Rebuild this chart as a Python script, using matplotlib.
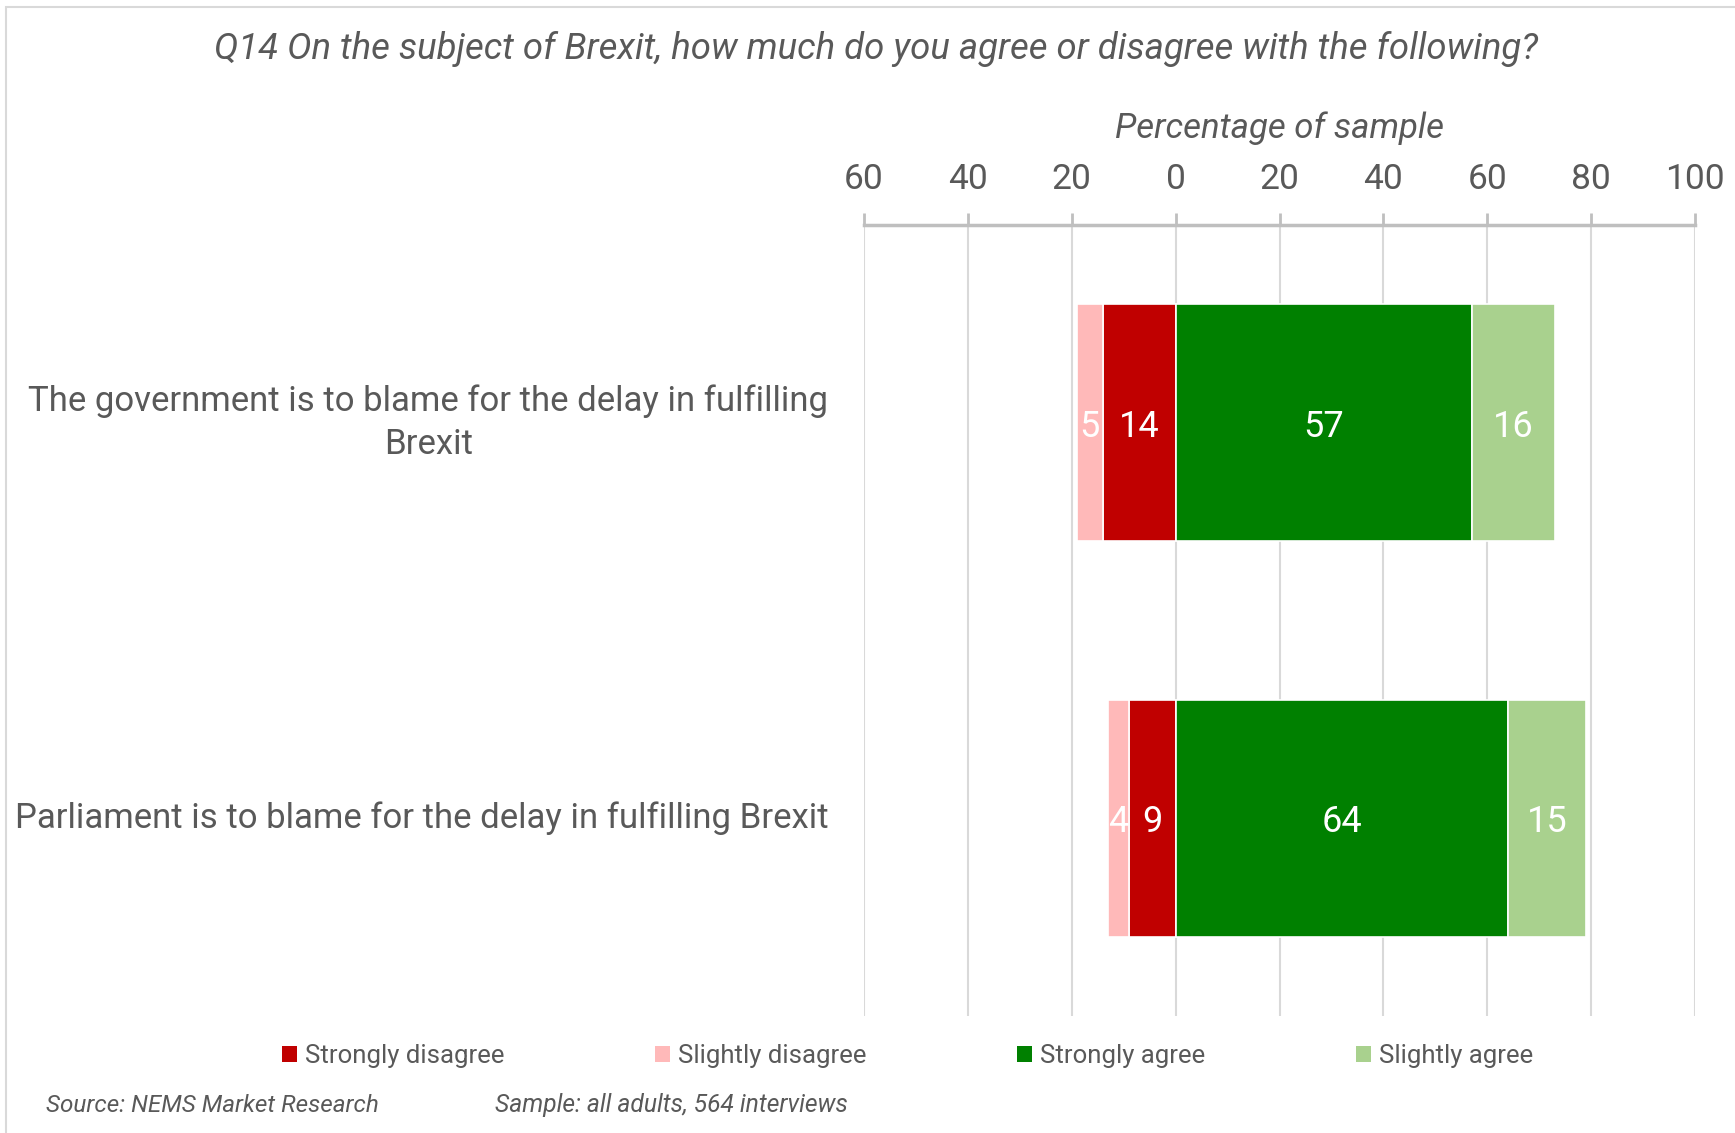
import matplotlib
matplotlib.use("Agg")
import matplotlib.pyplot as plt
from matplotlib.patches import Rectangle

plt.rcParams['font.family'] = ['Roboto', 'DejaVu Sans']

# ---- data ----
title = "Q14 On the subject of Brexit, how much do you agree or disagree with the following?"
axis_label = "Percentage of sample"
categories = ["The government is to blame for the delay in fulfilling\nBrexit",
              "Parliament is to blame for the delay in fulfilling Brexit"]
strongly_disagree = [14, 9]
slightly_disagree = [5, 4]
strongly_agree = [57, 64]
slightly_agree = [16, 15]
series_names = ["Strongly disagree", "Slightly disagree", "Strongly agree", "Slightly agree"]
xticks = [-60, -40, -20, 0, 20, 40, 60, 80, 100]
xticklabels = ["60", "40", "20", "0", "20", "40", "60", "80", "100"]
source_text = "Source: NEMS Market Research"
sample_text = "Sample: all adults, 564 interviews"

colors = ["#C00000", "#FFB9B9", "#008000", "#A9D18E"]
TXT = "#595959"

W, H = 1735, 1133
fig = plt.figure(figsize=(W / 100, H / 100), dpi=100)
fig.patch.set_facecolor("white")

# outer border (only left and top visible)
fig.add_artist(Rectangle((6 / W, -0.1), 1.2, (1 - 7 / H) + 0.1, transform=fig.transFigure,
                         fill=False, edgecolor="#D9D9D9", linewidth=1.5))

ax = fig.add_axes([864 / W, 1 - 1016 / H, (1695 - 864) / W, (1016 - 225) / H])

y = list(range(len(categories)))
h = 0.6
neg_sd = [-v for v in strongly_disagree]

b_sd = ax.barh(y, neg_sd, height=h, color=colors[0], edgecolor="white", linewidth=1.2,
               label=series_names[0], zorder=3)
b_sl = ax.barh(y, [-v for v in slightly_disagree], left=neg_sd, height=h, color=colors[1],
               edgecolor="white", linewidth=1.2, label=series_names[1], zorder=3)
b_sa = ax.barh(y, strongly_agree, height=h, color=colors[2], edgecolor="white", linewidth=1.2,
               label=series_names[2], zorder=3)
b_la = ax.barh(y, slightly_agree, left=strongly_agree, height=h, color=colors[3], edgecolor="white",
               linewidth=1.2, label=series_names[3], zorder=3)

lab_fs = 26
for i in y:
    ax.text(-strongly_disagree[i] / 2, i, str(strongly_disagree[i]), ha="center", va="center_baseline",
            color="white", fontsize=lab_fs, zorder=4)
    ax.text(-strongly_disagree[i] - slightly_disagree[i] / 2, i, str(slightly_disagree[i]), ha="center",
            va="center_baseline", color="white", fontsize=lab_fs, zorder=4)
    ax.text(strongly_agree[i] / 2, i, str(strongly_agree[i]), ha="center", va="center_baseline",
            color="white", fontsize=lab_fs, zorder=4)
    ax.text(strongly_agree[i] + slightly_agree[i] / 2, i, str(slightly_agree[i]), ha="center",
            va="center_baseline", color="white", fontsize=lab_fs, zorder=4)

ax.set_xlim(-60, 100)
ax.set_ylim(1.5, -0.5)
ax.xaxis.tick_top()
ax.set_xticks(xticks)
ax.set_xticklabels(xticklabels)
ax.tick_params(axis="x", direction="out", length=9, width=2, color="#BFBFBF",
               labelsize=25.5, labelcolor=TXT, pad=12)
ax.set_yticks(y)
ax.set_yticklabels([])
ax.tick_params(axis="y", length=0)
ax.grid(axis="x", color="#D9D9D9", linewidth=1.5, zorder=0)
for s in ["right", "bottom", "left"]:
    ax.spines[s].set_visible(False)
ax.spines["top"].set_color("#BFBFBF")
ax.spines["top"].set_linewidth(2.5)
ax.set_facecolor("none")

# category labels
for i, c in enumerate(categories):
    ax.text(-0.043, i, c, transform=ax.get_yaxis_transform(), ha="right", va="center",
            multialignment="center", fontsize=25, color=TXT, linespacing=1.4)

# axis title and chart title
fig.text((864 + 1695) / 2 / W, 1 - 128 / H, axis_label, ha="center", va="center",
         fontsize=25, style="italic", color=TXT)
fig.text(876 / W, 1 - 49 / H, title, ha="center", va="center", fontsize=26.3, style="italic", color=TXT)

leg = fig.legend(handles=[b_sd, b_sl, b_sa, b_la], labels=series_names, ncol=4,
                 loc="center left", bbox_to_anchor=(282 / W, 1 - 1056 / H), frameon=False,
                 fontsize=18.5, handlelength=0.6, handleheight=0.6, handletextpad=0.3,
                 columnspacing=5.85, labelcolor=TXT, borderaxespad=0, borderpad=0)
for p in leg.get_patches():
    p.set_edgecolor("none")

fig.text(46 / W, 1 - 1105 / H, source_text, ha="left", va="center", fontsize=17.5, style="italic", color=TXT)
fig.text(495 / W, 1 - 1105 / H, sample_text, ha="left", va="center", fontsize=17.7, style="italic", color=TXT)

fig.savefig("out.png", dpi=100, facecolor="white")
